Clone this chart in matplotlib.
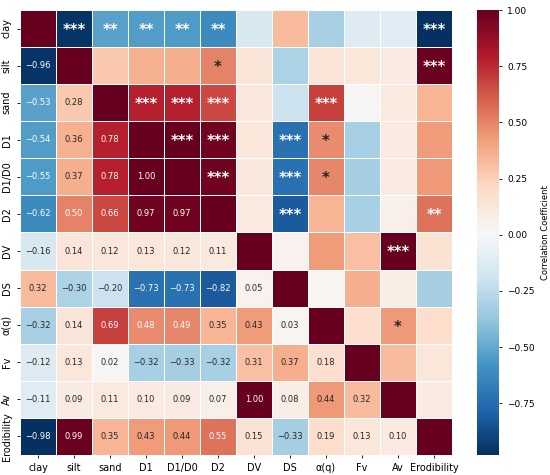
import numpy as np
import matplotlib
matplotlib.use("Agg")
import matplotlib.pyplot as plt
import seaborn as sns

labels = ["clay", "silt", "sand", "D1", "D1/D0", "D2", "DV", "DS", "α(q)", "Fv", "Av", "Erodibility"]

# lower-triangle correlation values (row by row)
lower_rows = [
    [],
    [-0.96],
    [-0.53, 0.28],
    [-0.54, 0.36, 0.78],
    [-0.55, 0.37, 0.78, 1.00],
    [-0.62, 0.50, 0.66, 0.97, 0.97],
    [-0.16, 0.14, 0.12, 0.13, 0.12, 0.11],
    [0.32, -0.30, -0.20, -0.73, -0.73, -0.82, 0.05],
    [-0.32, 0.14, 0.69, 0.48, 0.49, 0.35, 0.43, 0.03],
    [-0.12, 0.13, 0.02, -0.32, -0.33, -0.32, 0.31, 0.37, 0.18],
    [-0.11, 0.09, 0.11, 0.10, 0.09, 0.07, 1.00, 0.08, 0.44, 0.32],
    [-0.98, 0.99, 0.35, 0.43, 0.44, 0.55, 0.15, -0.33, 0.19, 0.13, 0.10],
]

# significance stars in the upper triangle: (row, col, stars)
stars = [
    ("clay", "silt", "***"), ("clay", "sand", "**"), ("clay", "D1", "**"),
    ("clay", "D1/D0", "**"), ("clay", "D2", "**"), ("clay", "Erodibility", "***"),
    ("silt", "D2", "*"), ("silt", "Erodibility", "***"),
    ("sand", "D1", "***"), ("sand", "D1/D0", "***"), ("sand", "D2", "***"), ("sand", "α(q)", "***"),
    ("D1", "D1/D0", "***"), ("D1", "D2", "***"), ("D1", "DS", "***"), ("D1", "α(q)", "*"),
    ("D1/D0", "D2", "***"), ("D1/D0", "DS", "***"), ("D1/D0", "α(q)", "*"),
    ("D2", "DS", "***"), ("D2", "Erodibility", "**"),
    ("DV", "Av", "***"),
    ("α(q)", "Av", "*"),
]

n = len(labels)
corr = np.eye(n)
for i, row in enumerate(lower_rows):
    for j, v in enumerate(row):
        corr[i, j] = v
        corr[j, i] = v

fig = plt.figure(figsize=(5.5, 4.75), dpi=100)
ax = fig.add_axes([20/550, 20/475, 432/550, 445/475])
cax = fig.add_axes([477/550, 20/475, 22/550, 445/475])

cmap = plt.get_cmap("RdBu_r")
sns.heatmap(corr, ax=ax, cbar_ax=cax, cmap=cmap, annot=False,
            linewidths=0.6, linecolor="white",
            xticklabels=labels, yticklabels=labels, square=False)

for i in range(n):
    for j in range(i):
        v = corr[i, j]
        tc = "white" if abs(v) >= 0.45 else "#262626"
        ax.text(j + 0.5, i + 0.5, f"{v:.2f}".replace("-", "\u2212"),
                ha="center", va="center", fontsize=6, color=tc)

for r, c, s in stars:
    i, j = labels.index(r), labels.index(c)
    tc = "white" if abs(corr[i, j]) > 0.5 else "#262626"
    ax.text(j + 0.5, i + 0.55, s, ha="center", va="center", fontsize=10.5,
            fontweight="bold", color=tc)

ax.tick_params(axis="both", labelsize=7, length=2.5, width=0.6)
ax.set_xticklabels(labels, rotation=0)
ax.set_yticklabels(labels, rotation=90, va="center")
cticks = [-0.75, -0.5, -0.25, 0, 0.25, 0.5, 0.75, 1.0]
cax.set_yticks(cticks)
cax.set_yticklabels([f"{t:.2f}".replace("-", "\u2212") for t in cticks])
cax.tick_params(labelsize=6.5, length=2.5, width=0.6)
cax.set_ylabel("Correlation Coefficient", fontsize=6)
for sp in cax.spines.values():
    sp.set_visible(False)

fig.savefig("out.png", dpi=100)
